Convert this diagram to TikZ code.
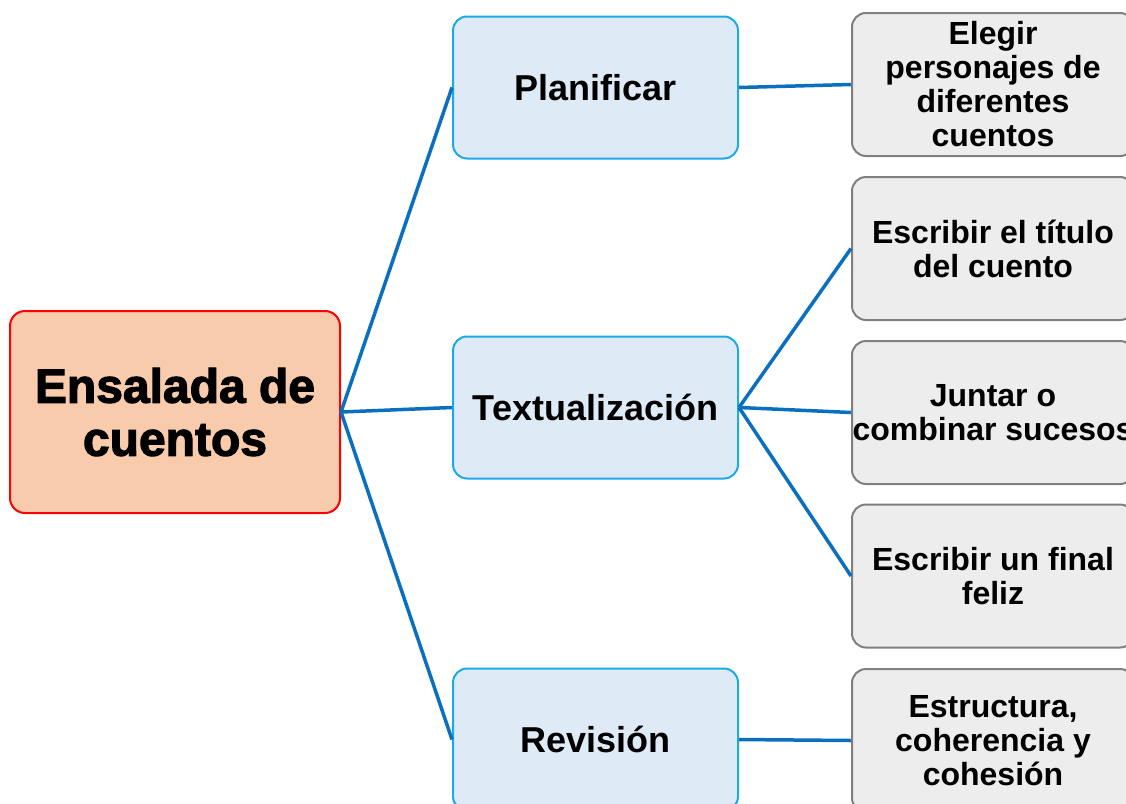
\documentclass[tikz,border=0pt]{standalone}
\usepackage{fontspec}
\setmainfont{Liberation Sans}
\newfontfamily\rootfont{Liberation Sans}[BoldFeatures={FakeBold=2.5}]
\definecolor{conn}{HTML}{0A6FBF}
\definecolor{rootfill}{HTML}{F8CBAD}
\definecolor{rootdraw}{HTML}{FF0000}
\definecolor{bluefill}{HTML}{DEEBF7}
\definecolor{bluedraw}{HTML}{1BA9E8}
\definecolor{grayfill}{HTML}{EDEDED}
\definecolor{graydraw}{HTML}{7F7F7F}
\tikzset{
  rootbox/.style={draw=rootdraw, fill=rootfill, line width=2pt, rounded corners=15pt,
    minimum width=330pt, minimum height=202pt, inner sep=0pt, align=center,
    font=\rootfont\bfseries\fontsize{48}{53}\selectfont},
  stagebox/.style={draw=bluedraw, fill=bluefill, line width=2pt, rounded corners=14pt,
    minimum width=285pt, minimum height=142pt, inner sep=0pt, align=center,
    font=\bfseries\fontsize{36}{40}\selectfont},
  taskbox/.style={draw=graydraw, fill=grayfill, line width=2pt, rounded corners=14pt,
    minimum width=282pt, minimum height=143pt, inner sep=0pt, align=center,
    font=\bfseries\fontsize{32}{34}\selectfont},
  link/.style={draw=conn, line width=3.5pt}
}
\begin{document}
\begin{tikzpicture}[x=1pt,y=-1pt]
\useasboundingbox (0,0) rectangle (1126,803);
\clip (0,0) rectangle (1126,803);
\node[rootbox] (root) at (175,412) {Ensalada de\\cuentos};
\node[stagebox] (plan) at (595.5,87.5) {Planificar};
\node[stagebox] (text) at (595.5,407.5) {Textualización};
\node[stagebox] (rev) at (595.5,739.5) {Revisión};
\node[taskbox] (t1) at (993,84.5) {Elegir\\personajes de\\diferentes\\cuentos};
\node[taskbox] (t2) at (993,248.5) {Escribir el título\\del cuento};
\node[taskbox] (t3) at (993,412.5) {Juntar o\\combinar sucesos};
\node[taskbox] (t4) at (993,576) {Escribir un final\\feliz};
\node[taskbox] (t5) at (993,740.5) {Estructura,\\coherencia y\\cohesión};
\draw[link] (root.east) -- (plan.west);
\draw[link] (root.east) -- (text.west);
\draw[link] (root.east) -- (rev.west);
\draw[link] (plan.east) -- (t1.west);
\draw[link] (text.east) -- (t2.west);
\draw[link] (text.east) -- (t3.west);
\draw[link] (text.east) -- (t4.west);
\draw[link] (rev.east) -- (t5.west);
\end{tikzpicture}
\end{document}
